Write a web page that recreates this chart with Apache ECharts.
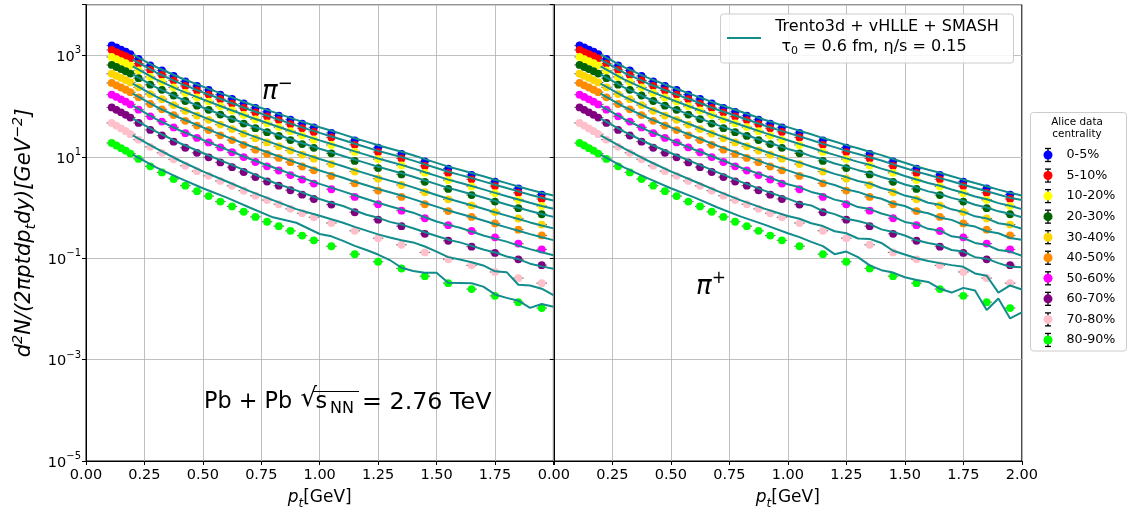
<!DOCTYPE html>
<html><head><meta charset="utf-8">
<script src="https://cdn.jsdelivr.net/npm/echarts@6/dist/echarts.min.js"></script>
<style>html,body{margin:0;padding:0;background:#fff}#c{width:1129px;height:515px}</style>
</head><body><div id="c"></div>
<script>
// ---------- data ----------
const centralities = ['0-5%','5-10%','10-20%','20-30%','30-40%','40-50%','50-60%','60-70%','70-80%','80-90%'];

// ALICE data points (pt centres, GeV)
const ptData = [0.11,0.13,0.15,0.17,0.19,0.225,0.275,0.325,0.375,0.425,0.475,0.525,0.575,0.625,0.675,0.725,0.775,0.825,0.875,0.925,0.975,1.05,1.15,1.25,1.35,1.45,1.55,1.65,1.75,1.85,1.95];
const alice_0_5   = [1570,1430,1300,1180,1060,850,635,506,393,307,250,208,168,138,113,92,77,65,54,45,38,29.6,21.1,15.2,11.4,8.15,5.86,4.40,3.24,2.39,1.80];
const alice_5_10  = [1280,1165,1060,962,870,690,518,412,320,250,204,169,137,112,92,75,62.7,53,44,36.7,31,24.1,17.2,12.4,9.3,6.6,4.78,3.59,2.64,1.95,1.47];
const alice_10_20 = [931,848,771,700,629,504,377,300,233,182,148,123,99.6,81.8,67,54.6,45.7,38.5,32,26.2,21.7,17.1,12.5,9.0,6.76,4.83,3.47,2.61,1.92,1.42,1.07];
const alice_20_30 = [648,591,537,487,438,355,264,209,162,126,102,84.4,67.9,55.5,45.2,36.7,30.6,25.8,21.4,17.8,15.0,11.7,8.31,5.99,4.49,3.21,2.33,1.76,1.31,0.970,0.736];
const alice_30_40 = [435,396,360,326,293,235,173,137,105,80.7,65,53.7,43.2,35.2,28.6,23.1,19.2,16.1,13.3,11.0,9.2,7.19,5.13,3.71,2.78,2.0,1.45,1.10,0.813,0.607,0.461];
const alice_40_50 = [286,257,233,210,188,149,110,86.5,66.4,51.3,41.3,33.7,26.5,21.4,17.2,13.8,11.4,9.49,7.83,6.44,5.40,4.20,3.0,2.16,1.62,1.16,0.85,0.651,0.486,0.366,0.281];
const alice_50_60 = [168,152,136,122,108,85.0,62.9,49.6,37.9,29.3,23.6,19.2,15.3,12.3,9.89,7.89,6.48,5.37,4.37,3.57,2.96,2.29,1.62,1.16,0.864,0.614,0.449,0.344,0.258,0.194,0.149];
const alice_60_70 = [94.2,84.4,75.4,67.3,59.4,46.6,33.9,26.3,19.9,15.1,12.0,9.78,7.74,6.24,5.01,3.98,3.26,2.70,2.19,1.79,1.47,1.14,0.806,0.575,0.428,0.302,0.221,0.169,0.127,0.0951,0.0729];
const alice_70_80 = [46.5,41.2,36.3,32.0,27.9,21.8,15.7,12.0,8.92,6.66,5.20,4.22,3.34,2.68,2.15,1.71,1.40,1.16,0.94,0.77,0.642,0.494,0.348,0.248,0.184,0.130,0.0949,0.0722,0.0535,0.0406,0.0322];
const alice_80_90 = [18.7,16.7,14.8,13.2,11.6,9.10,6.48,4.91,3.65,2.70,2.10,1.68,1.31,1.05,0.825,0.653,0.524,0.429,0.346,0.279,0.225,0.172,0.120,0.0851,0.0627,0.0442,0.0322,0.0246,0.0181,0.0136,0.0104];

// model curves (Trento3d + vHLLE + SMASH)
const ptModel = [0.2,0.3,0.4,0.5,0.6,0.7,0.8,0.9,1.0,1.05,1.1,1.15,1.2,1.25,1.3,1.35,1.4,1.45,1.5,1.55,1.6,1.65,1.7,1.75,1.8,1.85,1.9,1.95,2.0];
// pi-minus
const mMinus_0_5   = [1040,590,366,242,163,110,77,53.5,38.3,32.6,27.7,23.3,19.9,16.9,14.6,12.6,10.7,9.0,7.6,6.4,5.55,4.8,4.12,3.52,3.03,2.6,2.24,1.95,1.72];
const mMinus_5_10  = [824,460,284,187,126,84.8,59.2,41.2,29.6,25.2,21.4,18.1,15.4,13.1,11.4,9.84,8.4,7.08,6.0,5.08,4.4,3.82,3.28,2.8,2.42,2.08,1.79,1.56,1.38];
const mMinus_10_20 = [608,338,207,136,90.7,61.1,42.5,29.5,21.1,17.9,15.2,12.8,10.9,9.27,8.01,6.92,5.9,4.96,4.2,3.55,3.07,2.66,2.28,1.94,1.67,1.44,1.24,1.07,0.946];
const mMinus_20_30 = [422,234,143,93.6,62.5,42,29.2,20.2,14.4,12.3,10.4,8.78,7.49,6.36,5.5,4.75,4.05,3.41,2.89,2.44,2.11,1.83,1.57,1.34,1.15,0.992,0.853,0.742,0.654];
const mMinus_30_40 = [278,154,93.7,61.3,40.7,27,18.6,12.8,9.07,7.69,6.51,5.47,4.65,3.94,3.39,2.93,2.49,2.09,1.76,1.49,1.28,1.11,0.947,0.805,0.692,0.593,0.508,0.441,0.387];
const mMinus_40_50 = [177,97.2,58.9,38.1,25,16.5,11.2,7.67,5.37,4.55,3.85,3.23,2.74,2.32,2.0,1.72,1.46,1.23,1.04,0.872,0.752,0.65,0.556,0.473,0.406,0.348,0.298,0.259,0.227];
const mMinus_50_60 = [102,55.5,33.4,21.5,14,9.17,6.22,4.2,2.92,2.47,2.08,1.74,1.47,1.24,1.06,0.911,0.79,0.643,0.53,0.454,0.40,0.336,0.28,0.243,0.212,0.177,0.151,0.131,0.114];
const mMinus_60_70 = [56.6,31.4,18.7,11.9,7.65,4.92,3.15,2.18,1.47,1.24,1.07,0.87,0.72,0.63,0.52,0.46,0.39,0.325,0.275,0.232,0.205,0.175,0.148,0.13,0.108,0.096,0.078,0.069,0.0618];
const mMinus_70_80 = [26.5,14.6,8.45,5.15,3.29,2.11,1.40,0.93,0.69,0.585,0.5,0.415,0.35,0.295,0.255,0.225,0.205,0.17,0.135,0.105,0.094,0.083,0.072,0.055,0.053,0.030,0.029,0.025,0.0187];
const mMinus_80_90 = [11.0,6.2,3.8,2.4,1.58,1.0,0.64,0.50,0.30,0.27,0.22,0.175,0.145,0.118,0.092,0.0647,0.056,0.0516,0.0516,0.0327,0.0325,0.032,0.0275,0.0193,0.0165,0.0145,0.0105,0.0125,0.011];
// pi-plus
const mPlus_0_5   = [1035,588,365,241,163,110,77.5,53.8,38.5,32.7,27.8,23.4,20.0,17.0,14.7,12.6,10.8,9.05,7.65,6.45,5.55,4.83,4.14,3.54,3.04,2.62,2.25,1.96,1.73];
const mPlus_5_10  = [822,459,283,187,126,84.6,59.5,41.4,29.7,25.3,21.5,18.0,15.5,13.1,11.4,9.8,8.45,7.1,6.0,5.1,4.42,3.8,3.3,2.8,2.43,2.1,1.8,1.55,1.4];
const mPlus_10_20 = [606,337,207,136,90.5,61.3,42.4,29.6,21.2,17.9,15.3,12.7,10.9,9.3,7.95,6.95,5.85,5.0,4.18,3.57,3.05,2.68,2.26,1.95,1.65,1.45,1.22,1.08,0.93];
const mPlus_20_30 = [421,234,143,93.4,62.6,42.1,29.1,20.3,14.3,12.4,10.3,8.85,7.4,6.4,5.45,4.8,4.0,3.45,2.85,2.47,2.08,1.85,1.55,1.36,1.13,1.0,0.84,0.75,0.64];
const mPlus_30_40 = [277,154,93.5,61.4,40.6,27.1,18.5,12.9,9.0,7.75,6.45,5.5,4.6,3.98,3.33,2.97,2.43,2.12,1.72,1.52,1.24,1.13,0.92,0.82,0.67,0.61,0.49,0.45,0.38];
const mPlus_40_50 = [176,97.0,59.0,38.0,25.1,16.4,11.3,7.6,5.4,4.5,3.9,3.2,2.78,2.28,2.03,1.69,1.49,1.2,1.07,0.85,0.77,0.63,0.57,0.46,0.42,0.34,0.31,0.25,0.232];
const mPlus_50_60 = [101,55.7,33.2,21.6,13.9,9.25,6.1,4.25,2.88,2.5,2.03,1.78,1.43,1.27,1.02,0.93,0.76,0.66,0.52,0.47,0.38,0.35,0.27,0.25,0.2,0.183,0.145,0.135,0.112];
const mPlus_60_70 = [56.6,31.4,18.7,11.9,7.65,4.92,3.2,2.15,1.5,1.22,1.1,0.85,0.74,0.6,0.54,0.47,0.37,0.33,0.28,0.225,0.2,0.18,0.145,0.135,0.105,0.098,0.08,0.068,0.066];
const mPlus_70_80 = [26.5,14.6,8.45,5.15,3.29,2.11,1.38,0.95,0.68,0.6,0.49,0.43,0.34,0.31,0.245,0.24,0.2,0.14,0.118,0.1,0.088,0.08,0.073,0.0676,0.05,0.045,0.021,0.029,0.0242];
const mPlus_80_90 = [11.0,6.2,3.8,2.4,1.58,1.0,0.66,0.46,0.31,0.26,0.21,0.173,0.12,0.135,0.105,0.072,0.058,0.052,0.042,0.037,0.034,0.025,0.021,0.026,0.023,0.0095,0.016,0.0065,0.0085];

// ---------- styling ----------
const colors = ['#0000ff','#ff0000','#ffff00','#006400','#ffd700','#ff8c00','#ff00ff','#800080','#ffc0cb','#00ff00'];
const teal = '#138c8c';
const FONT = 'DejaVu Sans';

const aliceSets = [alice_0_5,alice_5_10,alice_10_20,alice_20_30,alice_30_40,alice_40_50,alice_50_60,alice_60_70,alice_70_80,alice_80_90];
const panels = [
  {models:[mMinus_0_5,mMinus_5_10,mMinus_10_20,mMinus_20_30,mMinus_30_40,mMinus_40_50,mMinus_50_60,mMinus_60_70,mMinus_70_80,mMinus_80_90], data: aliceSets},
  {models:[mPlus_0_5,mPlus_5_10,mPlus_10_20,mPlus_20_30,mPlus_30_40,mPlus_40_50,mPlus_50_60,mPlus_60_70,mPlus_70_80,mPlus_80_90], data: aliceSets}
];

const pairs = (xs, ys) => xs.map((x, i) => [x, ys[i]]);

const series = [];
panels.forEach((p, pi) => {
  // error-bar caps (tiny, mostly hidden behind markers)
  let caps = [];
  p.data.forEach(arr => { caps = caps.concat(pairs(ptData, arr)); });
  series.push({type:'scatter', name:'caps'+pi, xAxisIndex:pi, yAxisIndex:pi, data:caps, symbol:'rect', symbolSize:[10.5,1.2],
    itemStyle:{color:'#555'}, silent:true, z:1, animation:false});
  p.data.forEach((arr, ci) => {
    series.push({type:'scatter', name:centralities[ci], xAxisIndex:pi, yAxisIndex:pi, data:pairs(ptData, arr),
      symbol:'circle', symbolSize:7.8, itemStyle:{color:colors[ci], opacity:1}, z:2, animation:false});
  });
  p.models.forEach((arr, ci) => {
    series.push({type:'line', name:'model'+pi+'_'+ci, xAxisIndex:pi, yAxisIndex:pi, data:pairs(ptModel, arr),
      showSymbol:false, symbol:'none', lineStyle:{color:teal, width:2}, z:3, animation:false});
  });
});

const supRich = {
  b:{fontSize:14.5, color:'#000', fontFamily:FONT, lineHeight:19, verticalAlign:'bottom'},
  e:{fontSize:10, color:'#000', fontFamily:FONT, lineHeight:19, verticalAlign:'top'}
};
const yLabelFmt = v => {
  const e = Math.round(Math.log10(v));
  if (Math.abs(e) % 2 !== 1) return '';
  return '{b|10}{e|' + (e < 0 ? '\u2212' : '') + Math.abs(e) + '}';
};

const nameRichX = {
  i:{fontSize:17, fontStyle:'italic', fontFamily:FONT, color:'#000', lineHeight:24, verticalAlign:'middle'},
  s:{fontSize:12, fontStyle:'italic', fontFamily:FONT, color:'#000', lineHeight:24, verticalAlign:'bottom'},
  n:{fontSize:17, fontFamily:FONT, color:'#000', lineHeight:24, verticalAlign:'middle'}
};
const nameRichY = {
  i:{fontSize:21, fontStyle:'italic', fontFamily:FONT, color:'#000', lineHeight:28, verticalAlign:'middle'},
  sup:{fontSize:14.5, fontStyle:'italic', fontFamily:FONT, color:'#000', lineHeight:28, verticalAlign:'top'},
  sub:{fontSize:14.5, fontStyle:'italic', fontFamily:FONT, color:'#000', lineHeight:28, verticalAlign:'bottom'}
};

function xAxisFor(idx) {
  return {
    gridIndex:idx, type:'value', min:0, max:2, interval:0.25,
    axisLine:{show:true, onZero:false, lineStyle:{color:'#000', width:1}},
    axisTick:{show:true, length:4, lineStyle:{color:'#000'}},
    axisLabel:{fontSize:14.5, fontFamily:FONT, color:'#000', margin:7,
      formatter: v => (idx === 0 && v >= 2) ? '' : v.toFixed(2)},
    splitLine:{show:true, lineStyle:{color:'#b0b0b0', width:0.8}},
    name:'{i|p}{s|t}{n|[GeV]}', nameLocation:'middle', nameGap:25,
    nameTextStyle:{rich:nameRichX}
  };
}
function yAxisFor(idx) {
  const ax = {
    gridIndex:idx, type:'log', logBase:10, min:1e-5, max:1e4, interval:2,
    axisLine:{show:true, onZero:false, lineStyle:{color:'#000', width:1}},
    axisTick:{show:true, length:4, lineStyle:{color:'#000'}},
    axisLabel:{show: idx === 0, formatter:yLabelFmt, rich:supRich, margin:5},
    splitLine:{show:true, lineStyle:{color:'#b0b0b0', width:0.8}},
    minorTick:{show:false}, minorSplitLine:{show:false}
  };
  if (idx === 0) {
    ax.name = '{i|d}{sup|2}{i|N/(2πptdp}{sub|t}{i|dy)[GeV}{sup|\u22122}{i|]}';
    ax.nameLocation = 'middle';
    ax.nameGap = 47;
    ax.nameTextStyle = {rich:nameRichY};
  }
  return ax;
}

// legend I-beams (error-bar glyphs) behind legend markers
const legendRowY = centralities.map((c, i) => 155 + i * 20.55);
const ibeams = [];
legendRowY.forEach(y => {
  ibeams.push({type:'line', shape:{x1:1048, y1:y-6.5, x2:1048, y2:y+6.5}, style:{stroke:'#000', lineWidth:1.3}, z:5});
  ibeams.push({type:'line', shape:{x1:1045, y1:y-6.5, x2:1051, y2:y-6.5}, style:{stroke:'#000', lineWidth:1.3}, z:5});
  ibeams.push({type:'line', shape:{x1:1045, y1:y+6.5, x2:1051, y2:y+6.5}, style:{stroke:'#000', lineWidth:1.3}, z:5});
});

// text placed by its top edge
const txt = (x, y, text, size) => ({type:'text', z:6,
  style:{x:x, y:y, text:text, font:size + 'px "DejaVu Sans"', fill:'#000', align:'left', verticalAlign:'top'}});

const option = {
  backgroundColor:'#fff',
  animation:false,
  grid:[
    {left:86, top:4.7, width:467.4, height:457, show:true, borderColor:'#000', borderWidth:1, backgroundColor:'transparent'},
    {left:553.8, top:4.7, width:468, height:457, show:true, borderColor:'#000', borderWidth:1, backgroundColor:'transparent'}
  ],
  xAxis:[xAxisFor(0), xAxisFor(1)],
  yAxis:[yAxisFor(0), yAxisFor(1)],
  legend:{
    data:centralities, orient:'vertical', left:1043.5, top:148, itemWidth:9, itemHeight:9, itemGap:6.55,
    padding:0, icon:'circle', selectedMode:false, z:10,
    textStyle:{fontSize:12.7, fontFamily:FONT, color:'#000', lineHeight:14, padding:[0,0,0,9]}
  },
  graphic:[
    // right legend box + title
    {type:'rect', shape:{x:1030.5, y:112.5, width:96, height:238.5, r:3}, style:{fill:'rgba(255,255,255,0.85)', stroke:'#cccccc', lineWidth:1}, z:4},
    {type:'text', style:{x:1077, y:122.7, text:'Alice data', font:'10.4px "DejaVu Sans"', fill:'#000', align:'center', verticalAlign:'middle'}, z:5},
    {type:'text', style:{x:1077, y:134.5, text:'centrality', font:'10.4px "DejaVu Sans"', fill:'#000', align:'center', verticalAlign:'middle'}, z:5},
    ...ibeams,
    // model legend box
    {type:'rect', shape:{x:720.5, y:14, width:293, height:49, r:3}, style:{fill:'rgba(255,255,255,0.85)', stroke:'#cccccc', lineWidth:1}, z:20},
    {type:'line', shape:{x1:727, y1:38, x2:761, y2:38}, style:{stroke:teal, lineWidth:2.2}, z:21},
    {type:'text', style:{x:887, y:27, text:'Trento3d + vHLLE + SMASH', font:'16px "DejaVu Sans"', fill:'#000', align:'center', verticalAlign:'middle'}, z:21},
    {type:'text', style:{x:874, y:47, text:'{t|τ}{s|0}{n| = 0.6 fm, η/s = 0.15}', align:'center', verticalAlign:'middle',
      rich:{t:{fontSize:16, fontFamily:FONT, fill:'#000', lineHeight:20, verticalAlign:'middle'},
            s:{fontSize:11, fontFamily:FONT, fill:'#000', lineHeight:20, verticalAlign:'bottom'},
            n:{fontSize:16, fontFamily:FONT, fill:'#000', lineHeight:20, verticalAlign:'middle'}}}, z:21},
    // particle labels
    {type:'text', style:{x:262, y:90, text:'{p|π}{s|−}', verticalAlign:'middle',
      rich:{p:{fontSize:26, fontStyle:'italic', fontFamily:FONT, fill:'#000', lineHeight:30, verticalAlign:'bottom'},
            s:{fontSize:18, fontFamily:FONT, fill:'#000', lineHeight:30, verticalAlign:'top'}}}, z:6},
    {type:'text', style:{x:696, y:285, text:'{p|π}{s|+}', verticalAlign:'middle',
      rich:{p:{fontSize:26, fontStyle:'italic', fontFamily:FONT, fill:'#000', lineHeight:30, verticalAlign:'bottom'},
            s:{fontSize:17, fontFamily:FONT, fill:'#000', lineHeight:30, verticalAlign:'top'}}}, z:6},
    // collision system: Pb + Pb sqrt(s_NN) = 2.76 TeV
    txt(204, 391, 'Pb + Pb', 22.3),
    txt(300.5, 386.5, '√', 26),
    txt(315.5, 391, 's', 22.3),
    txt(330, 401, 'NN', 16),
    txt(362, 390.5, '= 2.76 TeV', 23.8),
    {type:'line', shape:{x1:313, y1:391.5, x2:359, y2:391.5}, style:{stroke:'#000', lineWidth:1.1}, z:6}
  ],
  series:series
};

const chart = echarts.init(document.getElementById('c'), null, {renderer:'canvas'});
chart.setOption(option);
</script>
</body></html>
